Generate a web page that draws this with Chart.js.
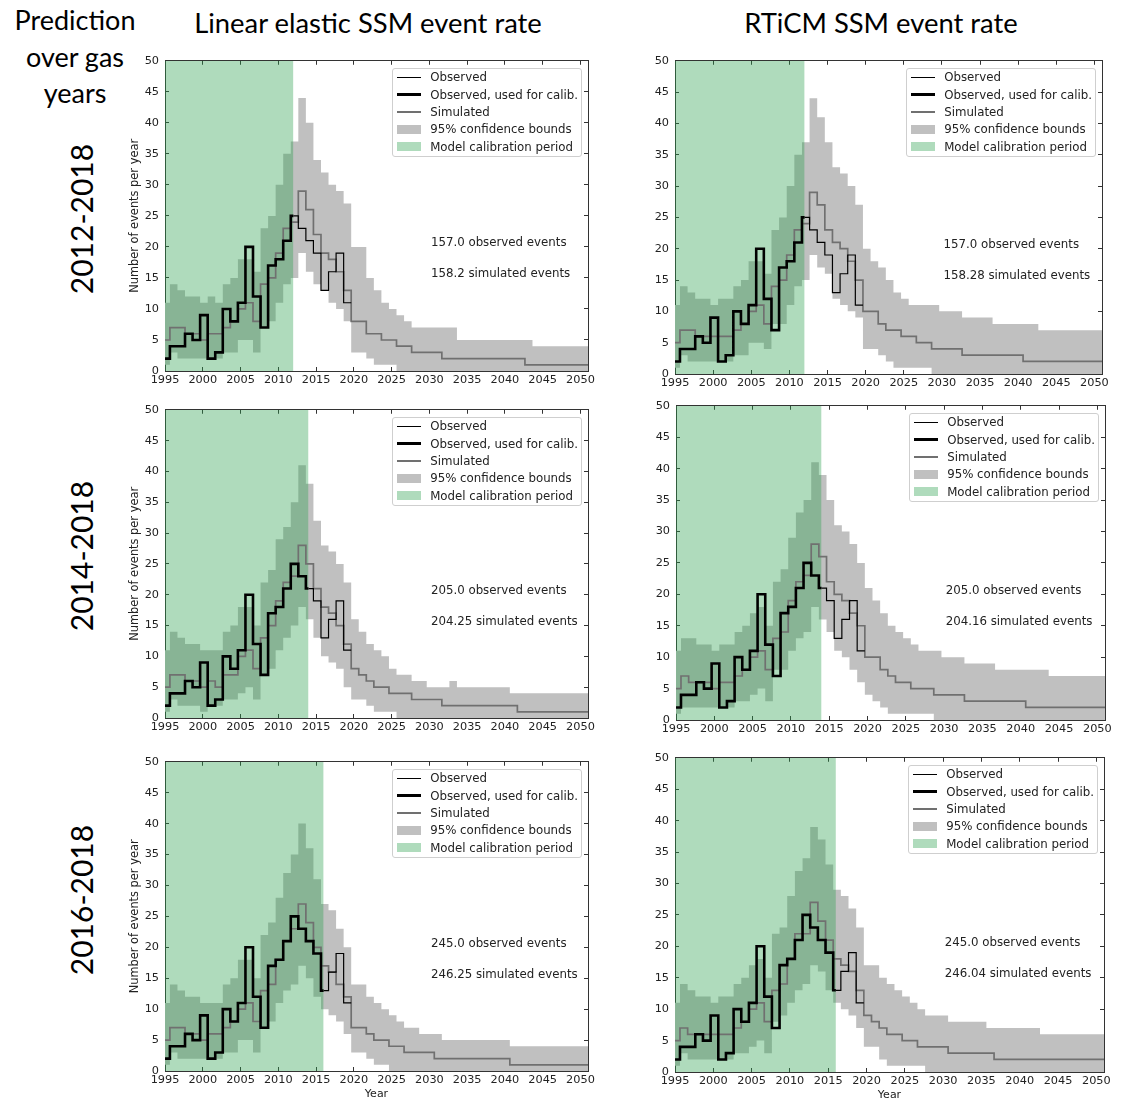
<!DOCTYPE html>
<html>
<head>
<meta charset="utf-8">
<script src="https://cdn.jsdelivr.net/npm/chart.js@4/dist/chart.umd.min.js"></script>
<style>
  html, body { margin: 0; padding: 0; background: #fff; }
  #fig { position: relative; width: 1126px; height: 1101px; overflow: hidden; }
  .panel { position: absolute; }
  .panel canvas { display: block; }
  .hdr { position: absolute; font-family: Lato, 'Open Sans', sans-serif; color: #000; white-space: nowrap;
         line-height: 1; transform: translate(-50%, -50%); }
  .rowlab { transform: translate(-50%, -50%) rotate(-90deg); }
  .legend { position: absolute; background: rgba(255,255,255,0.85); border: 1px solid #cfcfcf; border-radius: 3px;
            padding: 0 3px 1px 4px; font: 11.8px 'DejaVu Sans', sans-serif; color: #222; }
  .legend .row { display: flex; align-items: center; height: 17.3px; white-space: nowrap; }
  .legend .sw { width: 24px; margin-right: 9px; }
</style>
</head>
<body>
<div id="fig"></div>
<script>
/* ============================================================
   Six panels: induced-seismicity event rate per year, observed vs
   simulated, for two models (columns) and three calibration
   windows (rows). Each bin is one gas year, so steps sit ~0.35 yr
   before the calendar year boundary.
   ============================================================ */

const FIRST_YEAR = 1995;
const X_MIN = 1995, X_MAX = 2051;
const Y_MIN = 0, Y_MAX = 50;
const TICK_STEP = 5;
const BIN_SHIFT = 0.35;

// observed events per gas year, 1995–2019 (same in every panel)
const OBSERVED = [2, 4, 4, 6, 5, 9, 2, 3, 10, 8, 11, 20, 12, 7, 17, 18, 21, 25, 23, 21, 19, 13, 16, 19, 11];

// simulated rate and 95% bounds, one value per gas year 1995–2051
const SIM_LIN_2012 = [5,7,7,6,6,5,6,6,7,8, 10,11,8,14,15,19,23,24,29,26, 22,19,18,16,13,8,8,6,6,5, 5,4,4,3,3,3,3,2,2,2, 2,2,2,2,2,2,2,2,1,1, 1,1,1,1,1,1,1];
const HI_LIN_2012  = [11,14,13,12,12,11,12,11,14,15, 18,18,16,23,25,30,35,37,44,40, 34,32,30,29,27,20,20,15,13,11, 10,9,8,7,7,7,7,7,7,5, 5,5,5,5,5,5,5,5,5,4, 4,4,4,4,4,4,4];
const LO_LIN_2012  = [1,3,2,2,2,2,2,2,3,3, 5,5,3,7,8,11,14,15,19,16, 14,13,11,10,8,3,3,2,1,1, 1,0,0,0,0,0,0,0,0,0, 0,0,0,0,0,0,0,0,0,0, 0,0,0,0,0,0,0];

const SIM_RTI_2012 = [5,7,7,6,6,6,6,6,7,8, 10,11,8,14,15,19,23,24,29,27, 23,21,20,18,15,10,10,8,7,7, 6,6,5,5,4,4,4,4,3,3, 3,3,3,3,3,3,2,2,2,2, 2,2,2,2,2,2,2];
const HI_RTI_2012  = [11,14,13,12,12,11,12,12,14,15, 18,18,16,23,25,30,35,37,44,41, 37,33,32,30,27,20,18,17,15,13, 12,11,11,11,11,10,10,10,9,9, 9,9,8,8,8,8,8,8,7,7, 7,7,7,7,7,7,7];
const LO_RTI_2012  = [1,3,2,2,2,2,2,2,3,3, 5,5,4,8,8,11,14,15,19,17, 16,12,11,10,9,4,4,3,2,1, 1,1,1,1,0,0,0,0,0,0, 0,0,0,0,0,0,0,0,0,0, 0,0,0,0,0,0,0];

const SIM_LIN_2014 = [5,7,7,6,6,5,6,5,7,7, 10,11,8,13,15,19,22,23,28,25, 21,18,17,15,12,8,7,6,5,5, 4,4,4,3,3,3,3,2,2,2, 2,2,2,2,2,2,2,1,1,1, 1,1,1,1,1,1,1];
const HI_LIN_2014  = [11,14,13,12,12,11,11,11,14,15, 18,18,15,22,24,29,31,35,41,38, 32,28,27,25,22,16,14,12,11,10, 8,7,7,6,6,5,5,5,6,5, 5,5,5,5,5,5,4,4,4,4, 4,4,4,4,4,4,4];
const LO_LIN_2014  = [1,3,2,2,2,1,2,2,3,3, 4,5,3,7,8,11,13,15,18,16, 13,10,9,8,5,3,3,2,1,1, 1,0,0,0,0,0,0,0,0,0, 0,0,0,0,0,0,0,0,0,0, 0,0,0,0,0,0,0];

const SIM_RTI_2014 = [5,7,6,6,6,5,6,6,7,8, 10,11,8,13,14,19,22,23,28,26, 22,20,19,17,15,10,10,8,7,6, 6,5,5,5,4,4,4,4,3,3, 3,3,3,3,3,3,2,2,2,2, 2,2,2,2,2,2,2];
const HI_RTI_2014  = [11,13,13,12,12,11,12,12,14,15, 17,18,15,22,24,29,33,35,41,39, 35,31,30,28,25,21,19,17,15,14, 13,12,11,11,11,10,10,10,9,9, 9,9,8,8,8,8,8,8,8,7, 7,7,7,7,7,7,7];
const LO_RTI_2014  = [1,2,2,2,2,2,2,2,3,3, 4,5,3,8,8,11,13,14,18,16, 14,11,10,8,6,4,3,2,1,1, 1,1,1,1,0,0,0,0,0,0, 0,0,0,0,0,0,0,0,0,0, 0,0,0,0,0,0,0];

const SIM_LIN_2016 = [5,7,7,6,6,5,6,6,7,8, 10,11,8,13,14,18,21,23,27,24, 20,17,16,14,12,7,7,6,5,5, 4,4,3,3,3,3,2,2,2,2, 2,2,2,2,2,2,1,1,1,1, 1,1,1,1,1,1,1];
const HI_LIN_2016  = [11,14,13,12,12,11,11,11,14,15, 18,18,15,22,24,28,32,35,40,36, 31,27,26,23,20,14,14,12,11,10, 9,8,7,7,6,6,6,5,5,5, 5,5,5,5,5,5,4,4,4,4, 4,4,4,4,4,4,4];
const LO_LIN_2016  = [1,3,2,2,2,2,2,2,3,3, 5,5,3,7,8,11,13,14,17,15, 12,10,9,8,6,3,3,2,1,1, 0,0,0,0,0,0,0,0,0,0, 0,0,0,0,0,0,0,0,0,0, 0,0,0,0,0,0,0];

const SIM_RTI_2016 = [5,7,6,6,6,6,6,6,7,8, 10,11,8,13,14,18,22,22,27,24, 21,18,17,16,13,9,8,7,6,6, 5,5,4,4,4,4,3,3,3,3, 3,3,2,2,2,2,2,2,2,2, 2,2,2,2,2,2,2];
const HI_RTI_2016  = [11,14,13,12,12,11,12,12,14,15, 17,18,15,22,23,28,32,34,39,37, 33,29,28,26,23,17,17,15,14,13, 12,11,10,9,9,9,8,8,8,8, 8,7,7,7,7,7,7,7,6,6, 6,6,6,6,6,6,6];
const LO_RTI_2016  = [1,3,2,2,2,2,2,2,3,3, 4,5,3,8,9,11,13,14,17,16, 13,11,10,9,7,4,4,2,1,1, 1,1,1,0,0,0,0,0,0,0, 0,0,0,0,0,0,0,0,0,0, 0,0,0,0,0,0,0];

const CALIB_ENDS = [2012, 2014, 2016];
const ROW_LABELS = ['2012-2018', '2014-2018', '2016-2018'];
const COLUMN_TITLES = ['Linear elastic SSM event rate', 'RTiCM SSM event rate'];
const HEADER_LINES = ['Prediction', 'over gas', 'years'];
const OBSERVED_TOTALS = ['157.0', '205.0', '245.0'];
const SIMULATED_TOTALS_LIN = ['158.2', '204.25', '246.25'];
const SIMULATED_TOTALS_RTI = ['158.28', '204.16', '246.04'];

// ---- layout (plot-area boxes in page pixels) ----
const PLOT_BOXES = [
  [{ left: 165, top: 56,  right: 588,  bottom: 371 },  { left: 675, top: 56,  right: 1102, bottom: 374 }],
  [{ left: 165, top: 405, right: 588,  bottom: 718 },  { left: 676, top: 401, right: 1105, bottom: 720 }],
  [{ left: 165, top: 757, right: 588,  bottom: 1071 }, { left: 675, top: 753, right: 1104, bottom: 1072 }],
];
const PAD_L = 60, PAD_R = 15, PAD_T = 12, PAD_B = 30;

const C_OBS = '#000000';
const C_SIM = '#707070';
const C_BOUNDS = '#c0c0c0';
const C_CALIB = 'rgba(46,160,80,0.38)';
const C_AXIS = '#333333';
const C_TEXT = '#222222';
const TICK_FONT = { family: 'DejaVu Sans', size: 11.3 };

// turn one-value-per-gas-year series into step corners, clipped to [from, to]
function binPoints(values, from, to) {
  const pts = [];
  values.forEach((v, i) => {
    const start = Math.max(FIRST_YEAR + i - BIN_SHIFT, from);
    const end = Math.min(FIRST_YEAR + i + 1 - BIN_SHIFT, to);
    if (end <= start) return;
    pts.push({ x: start, y: v }, { x: end, y: v });
  });
  return pts;
}

const totalsPlugin = {
  id: 'eventTotals',
  afterDatasetsDraw(chart, args, opts) {
    const { ctx, scales: { x, y } } = chart;
    ctx.save();
    ctx.font = '11.8px "DejaVu Sans"';
    ctx.fillStyle = C_TEXT;
    ctx.textBaseline = 'middle';
    ctx.textAlign = 'left';
    opts.lines.forEach(l => ctx.fillText(l.text, x.getPixelForValue(l.x), y.getPixelForValue(l.y)));
    ctx.restore();
  }
};

function makeScales(showYTitle, showXTitle) {
  const line = {
    border: { display: true, color: C_AXIS, width: 1 },
    grid: { drawOnChartArea: false, drawTicks: true, tickLength: -4, color: C_AXIS },
  };
  return {
    x: {
      type: 'linear', position: 'bottom', min: X_MIN, max: X_MAX, ...line,
      afterFit: s => { s.height = PAD_B; },
      ticks: { stepSize: TICK_STEP, includeBounds: false, autoSkip: false, maxRotation: 0, padding: 6,
               color: C_TEXT, font: TICK_FONT, callback: v => String(v) },
      title: { display: showXTitle, text: 'Year', color: C_TEXT, font: { family: 'DejaVu Sans', size: 11 }, padding: 0 },
    },
    x2: {
      type: 'linear', position: 'top', min: X_MIN, max: X_MAX, ...line,
      afterFit: s => { s.height = 0; },
      ticks: { display: false, stepSize: TICK_STEP, includeBounds: false },
    },
    y: {
      type: 'linear', position: 'left', min: Y_MIN, max: Y_MAX, ...line,
      afterFit: s => { s.width = PAD_L; },
      ticks: { stepSize: TICK_STEP, padding: 10, color: C_TEXT, font: TICK_FONT },
      title: { display: showYTitle, text: 'Number of events per year', color: C_TEXT,
               font: { family: 'DejaVu Sans', size: 11.4 }, padding: { top: 23, bottom: 0 } },
    },
    y2: {
      type: 'linear', position: 'right', min: Y_MIN, max: Y_MAX, ...line,
      afterFit: s => { s.width = 0; },
      ticks: { display: false, stepSize: TICK_STEP },
    },
  };
}

function buildLegend(chart, wrap, canvasW) {
  const box = document.createElement('div');
  box.className = 'legend';
  chart.data.datasets
    .filter(d => d.legendRank !== undefined)
    .sort((a, b) => a.legendRank - b.legendRank)
    .forEach(d => {
      const row = document.createElement('div');
      row.className = 'row';
      const sw = document.createElement('span');
      sw.className = 'sw';
      if (d.legendKind === 'line') {
        sw.style.height = Math.round(d.borderWidth) + 'px';
        sw.style.background = d.borderColor;
      } else {
        sw.style.height = '9px';
        sw.style.background = d.backgroundColor;
      }
      const label = document.createElement('span');
      label.textContent = d.label;
      row.append(sw, label);
      box.appendChild(row);
    });
  box.style.top = (chart.chartArea.top + 7) + 'px';
  box.style.right = (canvasW - chart.chartArea.right + 6) + 'px';
  wrap.appendChild(box);
}

function makePanel(row, col, sim, hi, lo, simTotal) {
  const plot = PLOT_BOXES[row][col];
  const calibEnd = CALIB_ENDS[row];
  const cw = plot.right - plot.left + PAD_L + PAD_R;
  const ch = plot.bottom - plot.top + PAD_T + PAD_B;

  const wrap = document.createElement('div');
  wrap.className = 'panel';
  wrap.style.left = (plot.left - PAD_L) + 'px';
  wrap.style.top = (plot.top - PAD_T) + 'px';
  wrap.style.width = cw + 'px';
  wrap.style.height = ch + 'px';
  const canvas = document.createElement('canvas');
  canvas.width = cw;
  canvas.height = ch;
  wrap.appendChild(canvas);
  document.getElementById('fig').appendChild(wrap);

  const padding = { left: 0, right: PAD_R, top: PAD_T, bottom: 0 };
  const chart = new Chart(canvas, {
    type: 'line',
    data: {
      datasets: [
        { label: 'Observed, used for calib.', data: binPoints(OBSERVED, X_MIN, calibEnd),
          borderColor: C_OBS, borderWidth: 2.6, legendRank: 1, legendKind: 'line' },
        { label: 'Observed', data: binPoints(OBSERVED, calibEnd, X_MAX),
          borderColor: C_OBS, borderWidth: 1.2, legendRank: 0, legendKind: 'line' },
        { label: 'Simulated', data: binPoints(sim, X_MIN, X_MAX),
          borderColor: C_SIM, borderWidth: 1.7, legendRank: 2, legendKind: 'line' },
        { label: 'Model calibration period', data: [{ x: X_MIN, y: Y_MAX }, { x: calibEnd, y: Y_MAX }],
          borderColor: 'transparent', borderWidth: 0, backgroundColor: C_CALIB, fill: 'origin',
          legendRank: 4, legendKind: 'box' },
        { label: '95% confidence bounds', data: binPoints(hi, X_MIN, X_MAX),
          borderColor: 'transparent', borderWidth: 0, backgroundColor: C_BOUNDS, fill: '+1',
          legendRank: 3, legendKind: 'box' },
        { label: 'lower bound', data: binPoints(lo, X_MIN, X_MAX),
          borderColor: 'transparent', borderWidth: 0, fill: false },
      ]
    },
    options: {
      responsive: false,
      animation: false,
      events: [],
      layout: { padding },
      elements: { point: { radius: 0 }, line: { tension: 0, borderCapStyle: 'butt', borderJoinStyle: 'miter' } },
      plugins: {
        legend: { display: false },
        tooltip: { enabled: false },
        eventTotals: { lines: [
          { text: OBSERVED_TOTALS[row] + ' observed events', x: 2030.2, y: 20.6 },
          { text: simTotal + ' simulated events', x: 2030.2, y: 15.6 },
        ] },
      },
      scales: makeScales(col === 0, row === 2),
    },
    plugins: [totalsPlugin],
  });

  // pin the plot area exactly to the intended box if the layout drifted
  const a = chart.chartArea;
  const dTop = a.top - PAD_T, dRight = a.right - (cw - PAD_R);
  if (Math.abs(dTop) > 0.5 || Math.abs(dRight) > 0.5) {
    padding.top -= dTop;
    padding.right += dRight;
    chart.options.layout.padding = padding;
    chart.update();
  }

  buildLegend(chart, wrap, cw);
}

function addText(text, x, y, size, extraClass) {
  const d = document.createElement('div');
  d.className = 'hdr' + (extraClass ? ' ' + extraClass : '');
  d.textContent = text;
  d.style.left = x + 'px';
  d.style.top = y + 'px';
  d.style.fontSize = size + 'px';
  document.getElementById('fig').appendChild(d);
}

document.addEventListener('DOMContentLoaded', () => {
  HEADER_LINES.forEach((t, i) => addText(t, 75, [19, 56, 92][i], 27));
  COLUMN_TITLES.forEach((t, i) => addText(t, [368, 881][i], 23, 27.4));
  ROW_LABELS.forEach((t, i) => addText(t, 81, [219, 556, 900][i], 30, 'rowlab'));

  makePanel(0, 0, SIM_LIN_2012, HI_LIN_2012, LO_LIN_2012, SIMULATED_TOTALS_LIN[0]);
  makePanel(0, 1, SIM_RTI_2012, HI_RTI_2012, LO_RTI_2012, SIMULATED_TOTALS_RTI[0]);
  makePanel(1, 0, SIM_LIN_2014, HI_LIN_2014, LO_LIN_2014, SIMULATED_TOTALS_LIN[1]);
  makePanel(1, 1, SIM_RTI_2014, HI_RTI_2014, LO_RTI_2014, SIMULATED_TOTALS_RTI[1]);
  makePanel(2, 0, SIM_LIN_2016, HI_LIN_2016, LO_LIN_2016, SIMULATED_TOTALS_LIN[2]);
  makePanel(2, 1, SIM_RTI_2016, HI_RTI_2016, LO_RTI_2016, SIMULATED_TOTALS_RTI[2]);
});
</script>
</body>
</html>
